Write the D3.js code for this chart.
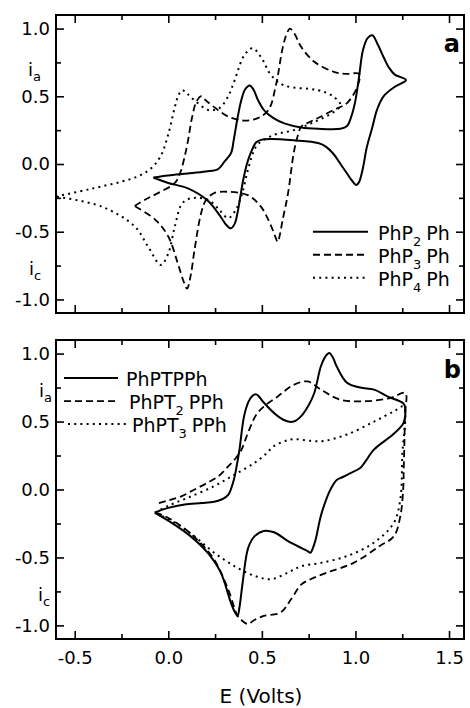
<!DOCTYPE html>
<html><head><meta charset="utf-8">
<script src="https://cdn.jsdelivr.net/npm/d3@7"></script>
<style>body{margin:0;background:#fff}</style>
</head><body><svg id="c" width="470" height="708"></svg>
<script>
// ---------- tick labels ----------
const xTicksMajor = [-0.5, 0, 0.5, 1.0, 1.5];
const xTickLabels = ["-0.5", "0.0", "0.5", "1.0", "1.5"];
const xTicksMinor = [-0.25, 0.25, 0.75, 1.25];
const yTicksMajor = [-1.0, -0.5, 0, 0.5, 1.0];
const yTickLabels = ["-1.0", "-0.5", "0.0", "0.5", "1.0"];
const yTicksMinor = [-0.75, -0.25, 0.25, 0.75];

// ---------- panel a series : [E (V), current] ----------
const php2ph = [[-0.08,-0.10],[0.0,-0.085],[0.105,-0.07],[0.2,-0.055],[0.264,-0.04],[0.30,0.017],[0.335,0.08],[0.35,0.18],[0.37,0.34],[0.39,0.47],[0.41,0.55],[0.435,0.58],[0.455,0.55],[0.48,0.47],[0.51,0.40],[0.56,0.34],[0.62,0.30],[0.71,0.27],[0.8,0.26],[0.92,0.26],[0.955,0.28],[0.98,0.36],[1.0,0.47],[1.02,0.65],[1.04,0.84],[1.065,0.93],[1.09,0.95],[1.12,0.88],[1.15,0.79],[1.18,0.71],[1.21,0.66],[1.27,0.62],
  [1.21,0.57],[1.15,0.50],[1.115,0.40],[1.09,0.27],[1.06,0.12],[1.04,-0.03],[1.02,-0.13],[1.005,-0.155],[0.98,-0.12],[0.955,-0.07],[0.92,0.0],[0.885,0.07],[0.84,0.13],[0.80,0.155],[0.67,0.175],[0.55,0.185],[0.50,0.18],[0.47,0.16],[0.44,0.08],[0.42,0.0],[0.40,-0.12],[0.385,-0.24],[0.37,-0.36],[0.355,-0.44],[0.335,-0.475],[0.31,-0.45],[0.28,-0.39],[0.21,-0.27],[0.105,-0.18],[0.0,-0.14],[-0.08,-0.10]];
const php3ph = [[-0.18,-0.31],[-0.12,-0.26],[-0.055,-0.215],[0.035,-0.14],[0.065,-0.06],[0.085,0.04],[0.105,0.17],[0.125,0.33],[0.15,0.46],[0.175,0.50],[0.2,0.47],[0.245,0.42],[0.32,0.35],[0.405,0.32],[0.46,0.33],[0.495,0.35],[0.53,0.39],[0.55,0.44],[0.57,0.55],[0.585,0.65],[0.61,0.85],[0.635,0.97],[0.65,1.0],[0.675,0.96],[0.71,0.865],[0.78,0.755],[0.885,0.68],[0.95,0.665],[1.02,0.665],
  [1.01,0.57],[0.955,0.45],[0.885,0.40],[0.80,0.34],[0.74,0.30],[0.71,0.275],[0.69,0.20],[0.67,0.08],[0.64,-0.215],[0.61,-0.42],[0.595,-0.53],[0.585,-0.575],[0.57,-0.53],[0.55,-0.46],[0.495,-0.315],[0.425,-0.23],[0.32,-0.205],[0.245,-0.215],[0.2,-0.27],[0.175,-0.365],[0.14,-0.635],[0.12,-0.82],[0.10,-0.92],[0.08,-0.86],[0.05,-0.73],[0.0,-0.535],[-0.07,-0.41],[-0.18,-0.31]];
const php4ph = [[-0.6,-0.24],[-0.45,-0.195],[-0.355,-0.165],[-0.25,-0.13],[-0.16,-0.09],[-0.09,-0.03],[-0.04,0.06],[0.0,0.22],[0.035,0.42],[0.055,0.51],[0.075,0.545],[0.10,0.52],[0.14,0.47],[0.21,0.40],[0.25,0.40],[0.28,0.42],[0.32,0.50],[0.355,0.62],[0.405,0.80],[0.45,0.855],[0.495,0.79],[0.55,0.655],[0.62,0.58],[0.80,0.545],[0.88,0.50],[0.92,0.435],
  [0.885,0.385],[0.78,0.31],[0.67,0.25],[0.565,0.215],[0.475,0.14],[0.43,-0.02],[0.395,-0.215],[0.36,-0.34],[0.32,-0.40],[0.28,-0.35],[0.22,-0.27],[0.15,-0.25],[0.105,-0.26],[0.07,-0.30],[0.035,-0.46],[0.0,-0.66],[-0.04,-0.745],[-0.108,-0.61],[-0.18,-0.46],[-0.355,-0.315],[-0.6,-0.24]];

// ---------- panel b series ----------
const phptpph = [[-0.073,-0.17],[0.0,-0.135],[0.087,-0.11],[0.18,-0.10],[0.245,-0.09],[0.29,-0.07],[0.32,-0.04],[0.35,0.07],[0.365,0.17],[0.38,0.29],[0.405,0.54],[0.43,0.65],[0.45,0.69],[0.47,0.70],[0.49,0.675],[0.51,0.64],[0.585,0.54],[0.64,0.50],[0.67,0.50],[0.71,0.54],[0.75,0.62],[0.78,0.71],[0.815,0.905],[0.84,0.98],[0.86,1.005],[0.88,0.97],[0.90,0.905],[0.955,0.785],[1.025,0.75],[1.10,0.735],[1.17,0.685],[1.255,0.635],[1.265,0.61],
  [1.257,0.49],[1.20,0.405],[1.10,0.295],[1.05,0.20],[1.027,0.16],[0.973,0.12],[0.93,0.09],[0.90,0.07],[0.87,0.01],[0.85,-0.05],[0.815,-0.195],[0.787,-0.37],[0.77,-0.44],[0.76,-0.465],[0.74,-0.45],[0.71,-0.43],[0.64,-0.38],[0.565,-0.315],[0.51,-0.305],[0.46,-0.345],[0.435,-0.40],[0.42,-0.465],[0.395,-0.71],[0.38,-0.87],[0.37,-0.93],[0.355,-0.90],[0.335,-0.835],[0.28,-0.61],[0.21,-0.465],[0.12,-0.345],[0.035,-0.26],[-0.073,-0.17]];
const phpt2pph = [[-0.05,-0.10],[0.0,-0.08],[0.07,-0.05],[0.14,0.0],[0.21,0.05],[0.27,0.10],[0.32,0.17],[0.36,0.23],[0.39,0.29],[0.41,0.36],[0.44,0.465],[0.47,0.55],[0.51,0.61],[0.585,0.685],[0.67,0.77],[0.745,0.795],[0.815,0.735],[0.92,0.66],[1.06,0.65],[1.19,0.675],[1.266,0.71],
  [1.264,0.55],[1.262,0.37],[1.258,0.15],[1.255,0.0],[1.24,-0.195],[1.205,-0.345],[1.13,-0.415],[0.99,-0.54],[0.85,-0.61],[0.76,-0.66],[0.71,-0.70],[0.655,-0.81],[0.60,-0.905],[0.51,-0.93],[0.46,-0.96],[0.425,-0.99],[0.39,-0.96],[0.37,-0.93],[0.32,-0.735],[0.245,-0.515],[0.155,-0.37],[0.07,-0.27],[-0.02,-0.195],[-0.07,-0.17]];
const phpt3pph = [[-0.07,-0.17],[0.0,-0.12],[0.105,-0.06],[0.245,0.025],[0.355,0.11],[0.46,0.195],[0.52,0.26],[0.565,0.32],[0.62,0.355],[0.67,0.37],[0.815,0.355],[0.955,0.405],[1.10,0.50],[1.205,0.575],[1.257,0.61],
  [1.25,0.245],[1.24,-0.07],[1.205,-0.245],[1.10,-0.39],[0.955,-0.49],[0.815,-0.54],[0.71,-0.565],[0.64,-0.61],[0.55,-0.66],[0.46,-0.635],[0.355,-0.565],[0.245,-0.465],[0.14,-0.345],[0.035,-0.245],[-0.07,-0.17]];

// ---------- legends ----------
const legendAPre = ["PhP", "PhP", "PhP"];
const legendASub = ["2", "3", "4"];
const legendAPost = ["Ph", "Ph", "Ph"];
const legendBPre = ["PhPTPPh", "PhPT", "PhPT"];
const legendBSub = ["", "2", "3"];
const legendBPost = ["", "PPh", "PPh"];
const xTitle = "E (Volts)";

const styles = [
  {w: 2, dash: null},
  {w: 1.8, dash: "7,4"},
  {w: 2, dash: "2,4.2"}
];

const svg = d3.select("#c");
const FONT = "DejaVu Sans, Liberation Sans, sans-serif";
const x = d3.scaleLinear().domain([-0.6, 1.58]).range([56, 464]);

function panel(id, top, bottom, series, showX) {
  const y = d3.scaleLinear().domain([-1.1, 1.1]).range([bottom, top]);
  const g = svg.append("g");
  g.append("clipPath").attr("id", "clip" + id).append("rect")
    .attr("x", 56).attr("y", top).attr("width", 408).attr("height", bottom - top);
  const line = d3.line().x(d => x(d[0])).y(d => y(d[1])).curve(d3.curveCatmullRom.alpha(0.5));
  const cg = g.append("g").attr("clip-path", `url(#clip${id})`);
  series.forEach((s, i) => {
    cg.append("path").attr("d", line(s)).attr("fill", "none").attr("stroke", "#000")
      .attr("stroke-width", styles[i].w).attr("stroke-dasharray", styles[i].dash)
      .attr("stroke-linejoin", "round");
  });
  const mk = (axis, tr) => {
    const a = g.append("g").attr("transform", tr).call(axis);
    a.select(".domain").remove();
    a.selectAll("line").attr("stroke", "#000").attr("stroke-width", 1.6);
    return a;
  };
  mk(d3.axisBottom(x).tickValues(xTicksMajor).tickSize(-8).tickFormat(""), `translate(0,${bottom})`);
  mk(d3.axisBottom(x).tickValues(xTicksMinor).tickSize(-5).tickFormat(""), `translate(0,${bottom})`);
  mk(d3.axisTop(x).tickValues(xTicksMajor).tickSize(-8).tickFormat(""), `translate(0,${top})`);
  mk(d3.axisTop(x).tickValues(xTicksMinor).tickSize(-5).tickFormat(""), `translate(0,${top})`);
  const yl = mk(d3.axisLeft(y).tickValues(yTicksMajor).tickSize(-8)
      .tickFormat((d, i) => yTickLabels[i]), `translate(56,0)`);
  yl.selectAll("text").attr("font-family", FONT).attr("font-size", 18).attr("fill", "#000")
    .attr("x", -6);
  mk(d3.axisLeft(y).tickValues(yTicksMinor).tickSize(-5).tickFormat(""), `translate(56,0)`);
  mk(d3.axisRight(y).tickValues(yTicksMajor).tickSize(-8).tickFormat(""), `translate(464,0)`);
  mk(d3.axisRight(y).tickValues(yTicksMinor).tickSize(-5).tickFormat(""), `translate(464,0)`);
  if (showX) {
    const xl = mk(d3.axisBottom(x).tickValues(xTicksMajor).tickSize(0).tickPadding(12)
      .tickFormat((d, i) => xTickLabels[i]), `translate(0,${bottom})`);
    xl.selectAll("text").attr("font-family", FONT).attr("font-size", 18).attr("fill", "#000");
  }
  g.append("rect").attr("x", 56).attr("y", top).attr("width", 408).attr("height", bottom - top)
    .attr("fill", "none").attr("stroke", "#000").attr("stroke-width", 2);
  return {g, y};
}

const A = panel("a", 15, 313, [php2ph, php3ph, php4ph], false);
const B = panel("b", 340, 639, [phptpph, phpt2pph, phpt3pph], true);

// panel letters
A.g.append("text").attr("x", 460).attr("y", 52).attr("text-anchor", "end")
  .attr("font-family", FONT).attr("font-weight", "bold").attr("font-size", 24).text("a");
B.g.append("text").attr("x", 461).attr("y", 378).attr("text-anchor", "end")
  .attr("font-family", FONT).attr("font-weight", "bold").attr("font-size", 24).text("b");

// i_a / i_c labels
function iLabel(g, xx, yy, sub) {
  const t = g.append("text").attr("x", xx).attr("y", yy).attr("font-family", FONT)
    .attr("font-size", 18).attr("fill", "#000");
  t.append("tspan").text("i");
  t.append("tspan").attr("font-size", 13).attr("dy", 5).text(sub);
}
iLabel(A.g, 28, 76, "a");
iLabel(A.g, 29, 275, "c");
iLabel(B.g, 39, 397, "a");
iLabel(B.g, 38, 601, "c");

// legends
function legend(g, rows) {
  rows.forEach(r => {
    g.append("line").attr("x1", r.x1).attr("x2", r.x2).attr("y1", r.y).attr("y2", r.y)
      .attr("stroke", "#000").attr("stroke-width", styles[r.i].w)
      .attr("stroke-dasharray", styles[r.i].dash);
    const t = g.append("text").attr("x", r.tx).attr("y", r.y + 8).attr("font-family", FONT)
      .attr("font-size", 19).attr("fill", "#000");
    t.append("tspan").text(r.pre);
    if (r.sub) {
      t.append("tspan").attr("font-size", 13).attr("dy", 6).text(r.sub);
      t.append("tspan").attr("dy", -6).attr("dx", 5).text(r.post);
    }
  });
}
legend(A.g, legendAPre.map((p, i) => ({i, pre: p, sub: legendASub[i], post: legendAPost[i],
  x1: 313, x2: 368, y: A.y(-0.5) + i * 23, tx: 378})));
legend(B.g, legendBPre.map((p, i) => ({i, pre: p, sub: legendBSub[i], post: legendBPost[i],
  x1: i === 2 ? 68 : 64, x2: i === 2 ? 128 : 118, y: B.y(0.82) + i * 23, tx: 126 + i * 3})));

// x title
svg.append("text").attr("x", 261).attr("y", 703).attr("text-anchor", "middle")
  .attr("font-family", FONT).attr("font-size", 20).attr("fill", "#000").text(xTitle);
</script></body></html>
